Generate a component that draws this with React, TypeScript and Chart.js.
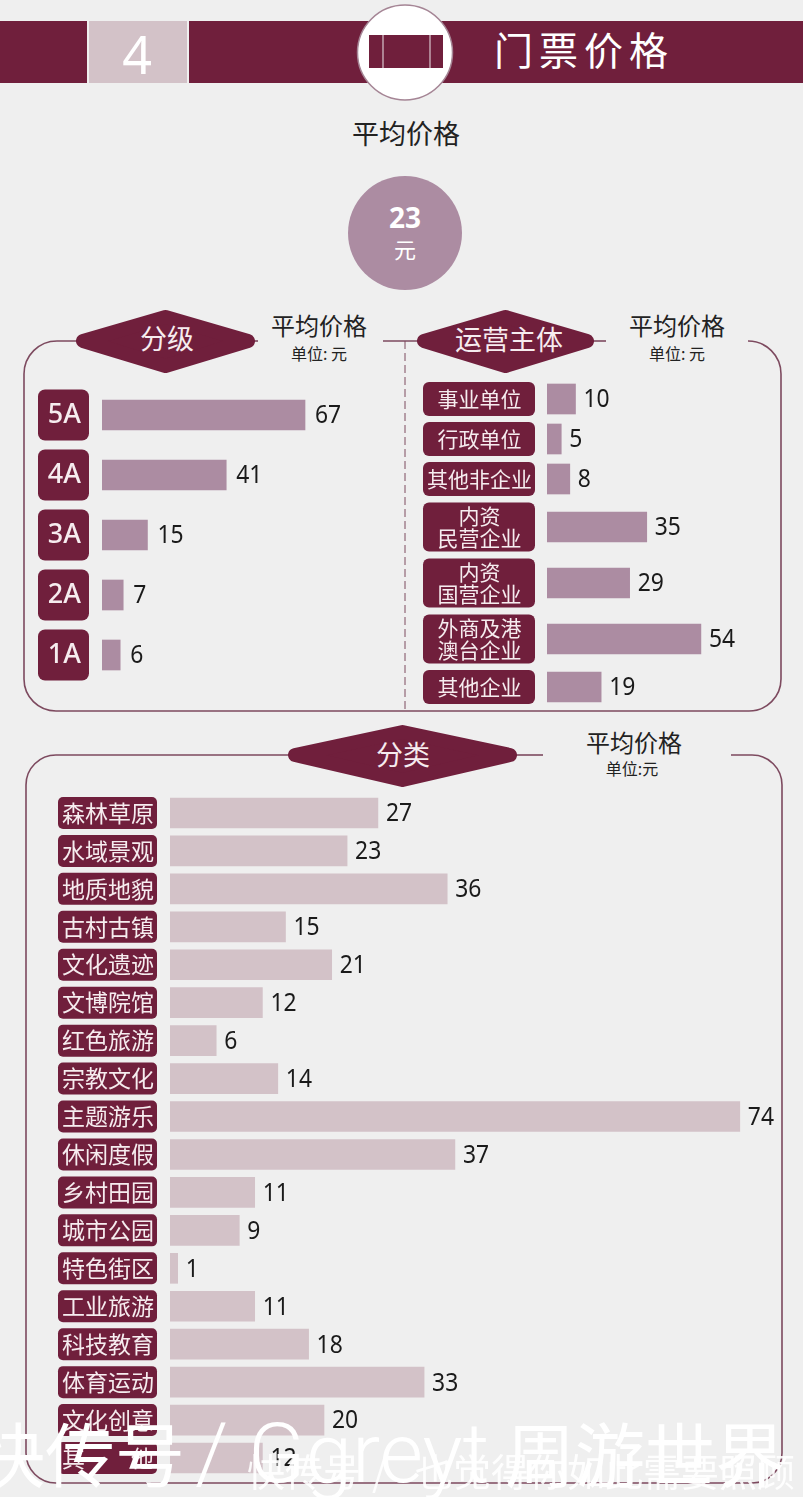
import React, { useEffect, useRef } from "react";
import { Chart, registerables } from "chart.js";

Chart.register(...registerables);

// ---------- data ----------
const gradeLabels = ["5A", "4A", "3A", "2A", "1A"];
const gradeValues = [67, 41, 15, 7, 6];

const operatorLabels = [
  ["事业单位"],
  ["行政单位"],
  ["其他非企业"],
  ["内资", "民营企业"],
  ["内资", "国营企业"],
  ["外商及港", "澳台企业"],
  ["其他企业"],
];
const operatorValues = [10, 5, 8, 35, 29, 54, 19];

const typeLabels = [
  "森林草原", "水域景观", "地质地貌", "古村古镇", "文化遗迹", "文博院馆",
  "红色旅游", "宗教文化", "主题游乐", "休闲度假", "乡村田园", "城市公园",
  "特色街区", "工业旅游", "科技教育", "体育运动", "文化创意", "其　　他",
];
const typeValues = [27, 23, 36, 15, 21, 12, 6, 14, 74, 37, 11, 9, 1, 11, 18, 33, 20, 12];

// Rows of the operator chart are as tall as their label: a two-line label takes 1.4 rows.
const rowSpan = (lines: string[]) => (lines.length > 1 ? 1.4 : 1);
const operatorRows = operatorLabels.reduce<number[]>((acc, lines, i) => {
  if (i === 0) return [0];
  const prev = acc[i - 1];
  return [...acc, prev + (rowSpan(operatorLabels[i - 1]) + rowSpan(lines)) / 2];
}, []);

// ---------- colours ----------
const DARK = "#701f3c";
const MID = "#ac8ca2";
const LIGHT = "#d3c2c8";
const LINE = "#7d4a5f";
const BG = "#efefef";
const CJK = '"Noto Sans CJK SC", "Noto Sans", sans-serif';
const NUM = '"Noto Sans", sans-serif';

type PanelOpts = {
  pillLeft: number;
  pillWidth: number;
  pillHeights: number[];
  pillRadius: number;
  valueGap: number;
  valueFont: string;
};

const pillPlugin = {
  id: "pills",
  beforeDraw(chart: any, _a: any, o: PanelOpts) {
    const { ctx } = chart;
    const y = chart.scales.y;
    ctx.save();
    ctx.fillStyle = DARK;
    y.ticks.forEach((_t: any, i: number) => {
      const c = y.getPixelForTick(i);
      const h = o.pillHeights[i];
      ctx.beginPath();
      ctx.roundRect(o.pillLeft, c - h / 2, o.pillWidth, h, o.pillRadius);
      ctx.fill();
    });
    ctx.restore();
  },
};

const valuePlugin = {
  id: "values",
  afterDatasetsDraw(chart: any, _a: any, o: PanelOpts) {
    const { ctx } = chart;
    const meta = chart.getDatasetMeta(0);
    const vals = chart.data.datasets[0].data;
    ctx.save();
    ctx.fillStyle = "#1a1a1a";
    ctx.font = o.valueFont;
    ctx.textAlign = "left";
    ctx.textBaseline = "middle";
    meta.data.forEach((bar: any, i: number) => {
      const v = vals[i];
      ctx.save();
      ctx.translate(bar.x + o.valueGap, bar.y + 1);
      ctx.scale(0.88, 1);
      ctx.fillText(String(typeof v === "number" ? v : v.x), 0, 0);
      ctx.restore();
    });
    ctx.restore();
  },
};

type Cfg = {
  data: any[];
  labels?: any[];
  rows?: number[];
  tickLabels?: any[];
  color: string;
  xMax: number;
  axisWidth: number;
  tickPad: number;
  tickFont: any;
  thickness: number;
  panel: PanelOpts;
};

function build(canvas: HTMLCanvasElement, c: Cfg) {
  const yScale: any = {
    grid: { display: false, drawTicks: false },
    border: { display: false },
    afterFit: (s: any) => {
      s.width = c.axisWidth;
      s.paddingTop = 0;
      s.paddingBottom = 0;
    },
    ticks: {
      autoSkip: false,
      color: "#f6ecef",
      font: c.tickFont,
      padding: c.tickPad,
      crossAlign: "center",
    },
  };
  if (c.rows) {
    const rows = c.rows;
    yScale.type = "linear";
    yScale.offset = false;
    yScale.reverse = true;
    yScale.min = -0.5;
    yScale.max = rows[rows.length - 1] + 0.5;
    yScale.afterBuildTicks = (s: any) => {
      s.ticks = rows.map((value) => ({ value }));
    };
    yScale.ticks.callback = (_v: any, i: number) => c.tickLabels![i];
  } else {
    yScale.type = "category";
  }
  return new Chart(canvas, {
    type: "bar",
    data: {
      labels: c.labels,
      datasets: [
        {
          data: c.data,
          backgroundColor: c.color,
          borderWidth: 0,
          barThickness: c.thickness,
        },
      ],
    },
    plugins: [pillPlugin, valuePlugin],
    options: {
      indexAxis: "y",
      animation: false,
      responsive: false,
      maintainAspectRatio: false,
      layout: { padding: 0 },
      scales: {
        x: { type: "linear", display: false, min: 0, max: c.xMax },
        y: yScale,
      },
      plugins: {
        legend: { display: false },
        tooltip: { enabled: false },
        pills: c.panel,
        values: c.panel,
      },
    } as any,
  } as any);
}

const Txt = (p: any) => {
  const { children, y, ...rest } = p;
  return (
    <text textAnchor="middle" dominantBaseline="central" fontFamily={CJK} y={y - 2} {...rest}>
      {children}
    </text>
  );
};

const Diamond = ({ l, r, cy, t, b }: { l: number; r: number; cy: number; t: number; b: number }) => {
  const cx = (l + r) / 2;
  return (
    <polygon
      points={`${l + 7},${cy} ${cx},${t + 7} ${r - 7},${cy} ${cx},${b - 7}`}
      fill={DARK}
      stroke={DARK}
      strokeWidth={14}
      strokeLinejoin="round"
    />
  );
};

export default function App() {
  const aRef = useRef<HTMLCanvasElement>(null);
  const bRef = useRef<HTMLCanvasElement>(null);
  const cRef = useRef<HTMLCanvasElement>(null);

  useEffect(() => {
    const a = build(aRef.current!, {
      data: gradeValues,
      labels: gradeLabels,
      color: MID,
      xMax: 100,
      axisWidth: 77,
      tickPad: 21,
      tickFont: { family: '"Noto Sans", sans-serif', size: 27, weight: "500" },
      thickness: 30,
      panel: {
        pillLeft: 13,
        pillWidth: 51,
        pillHeights: gradeValues.map(() => 51),
        pillRadius: 7,
        valueGap: 10,
        valueFont: `26px ${NUM}`,
      },
    });
    const b = build(bRef.current!, {
      data: operatorValues.map((x, i) => ({ x, y: operatorRows[i] })),
      rows: operatorRows,
      tickLabels: operatorLabels,
      color: MID,
      xMax: 80,
      axisWidth: 136,
      tickPad: 15,
      tickFont: { family: CJK, size: 21, lineHeight: 1.05 },
      thickness: 30,
      panel: {
        pillLeft: 12,
        pillWidth: 112,
        pillHeights: operatorLabels.map((l) => (l.length > 1 ? 49 : 34)),
        pillRadius: 6,
        valueGap: 8,
        valueFont: `26px ${NUM}`,
      },
    });
    const c = build(cRef.current!, {
      data: typeValues,
      labels: typeLabels,
      color: LIGHT,
      xMax: 80,
      axisWidth: 125,
      tickPad: 16,
      tickFont: { family: CJK, size: 23 },
      thickness: 30,
      panel: {
        pillLeft: 13,
        pillWidth: 99,
        pillHeights: typeValues.map(() => 32),
        pillRadius: 5,
        valueGap: 8,
        valueFont: `26px ${NUM}`,
      },
    });
    return () => {
      a.destroy();
      b.destroy();
      c.destroy();
    };
  }, []);

  const canvasStyle = (left: number, top: number): React.CSSProperties => ({
    position: "absolute",
    left,
    top,
  });

  return (
    <div
      style={{
        position: "absolute",
        left: 0,
        top: 0,
        width: 803,
        height: 1497,
        background: BG,
        overflow: "hidden",
      }}
    >
      <svg width={803} height={1497} style={{ position: "absolute", left: 0, top: 0 }}>
        {/* header band */}
        <rect x={0} y={21} width={87} height={62} fill={DARK} />
        <rect x={89} y={21} width={98} height={62} fill={LIGHT} />
        <rect x={189} y={21} width={614} height={62} fill={DARK} />
        <Txt x={137} y={55} fontFamily='"Noto Sans", sans-serif' fontSize={52} fill="#fff">
          4
        </Txt>
        <circle cx={405} cy={52.5} r={47.5} fill="#fff" stroke="#a58595" strokeWidth={1.5} />
        <rect x={369} y={35} width={74} height={33} fill={DARK} />
        <line x1={383} x2={383} y1={35} y2={68} stroke="#d8c6cd" strokeWidth={1.2} />
        <line x1={430} x2={430} y1={35} y2={68} stroke="#d8c6cd" strokeWidth={1.2} />
        <Txt x={584} y={50} fontSize={39} fill="#fff" letterSpacing={6}>
          门票价格
        </Txt>

        <Txt x={406} y={134} fontSize={27} fill="#222">
          平均价格
        </Txt>
        <circle cx={405} cy={233} r={57} fill={MID} />
        <Txt x={405} y={219} fontSize={28} fontWeight={700} fill="#fff" fontFamily='"Noto Sans", sans-serif'>
          23
        </Txt>
        <Txt x={405} y={250} fontSize={22} fill="#fff">
          元
        </Txt>

        {/* upper frame */}
        <path
          d="M 78 341 H 57 A 33 33 0 0 0 24 374 V 679 A 32 32 0 0 0 56 711 H 749 A 32 32 0 0 0 781 679 V 374 A 33 33 0 0 0 748 341"
          fill="none"
          stroke={LINE}
          strokeWidth={1.6}
        />
        <line x1={250} x2={258} y1={341} y2={341} stroke={LINE} strokeWidth={1.6} />
        <line x1={383} x2={420} y1={341} y2={341} stroke={LINE} strokeWidth={1.6} />
        <line x1={590} x2={606} y1={341} y2={341} stroke={LINE} strokeWidth={1.6} />
        <line x1={405} x2={405} y1={341} y2={711} stroke={LINE} strokeWidth={1} strokeDasharray="8 4" />
        <Diamond l={76} r={255} cy={341} t={310} b={373} />
        <Diamond l={417} r={594} cy={341} t={310} b={373} />
        <Txt x={167} y={339} fontSize={27} fill="#f6ecef">
          分级
        </Txt>
        <Txt x={509} y={340} fontSize={27} fill="#f6ecef">
          运营主体
        </Txt>
        <Txt x={319} y={326} fontSize={24} fill="#222">
          平均价格
        </Txt>
        <Txt x={319} y={355} fontSize={16} fill="#222">
          单位: 元
        </Txt>
        <Txt x={677} y={326} fontSize={24} fill="#222">
          平均价格
        </Txt>
        <Txt x={677} y={355} fontSize={16} fill="#222">
          单位: 元
        </Txt>

        {/* lower frame */}
        <path
          d="M 292 755 H 56 A 30 30 0 0 0 26 785 V 1453 A 30 30 0 0 0 56 1483 H 752 A 30 30 0 0 0 782 1453 V 785 A 30 30 0 0 0 752 755 H 731"
          fill="none"
          stroke={LINE}
          strokeWidth={1.6}
        />
        <line x1={512} x2={543} y1={755} y2={755} stroke={LINE} strokeWidth={1.6} />
        <Diamond l={288} r={517} cy={755} t={725} b={787} />
        <Txt x={403} y={755} fontSize={27} fill="#f6ecef">
          分类
        </Txt>
        <Txt x={634} y={743} fontSize={24} fill="#222">
          平均价格
        </Txt>
        <Txt x={632} y={770} fontSize={16} fill="#222">
          单位:元
        </Txt>
      </svg>

      <canvas ref={aRef} width={380} height={300} style={canvasStyle(25, 385)} />
      <canvas ref={bRef} width={364} height={328} style={canvasStyle(411, 379)} />
      <canvas ref={cRef} width={741} height={683} style={canvasStyle(45, 794)} />

      {/* watermarks */}
      <svg width={803} height={1497} style={{ position: "absolute", left: 0, top: 0, pointerEvents: "none" }}>
        <text y={1482} fontFamily='"Noto Sans CJK SC", sans-serif' fontSize={70} fill="#fff">
          <tspan x={-25}>快传号</tspan>
          <tspan x={195} fontSize={84} fontFamily="Roboto, sans-serif" fontWeight={300}>
            /
          </tspan>
          <tspan x={248} fontSize={84} fontFamily="Roboto, sans-serif" fontWeight={300}>
            Ggreyt
          </tspan>
          <tspan x={505}>周游世界</tspan>
        </text>
        <text y={1486} fontFamily='"Noto Sans CJK SC", sans-serif' fontSize={38} fill="#fff" fillOpacity={0.9}>
          <tspan x={247}>快传号</tspan>
          <tspan x={372}>/</tspan>
          <tspan x={415}>也觉得你如此需要照顾</tspan>
        </text>
      </svg>
    </div>
  );
}
